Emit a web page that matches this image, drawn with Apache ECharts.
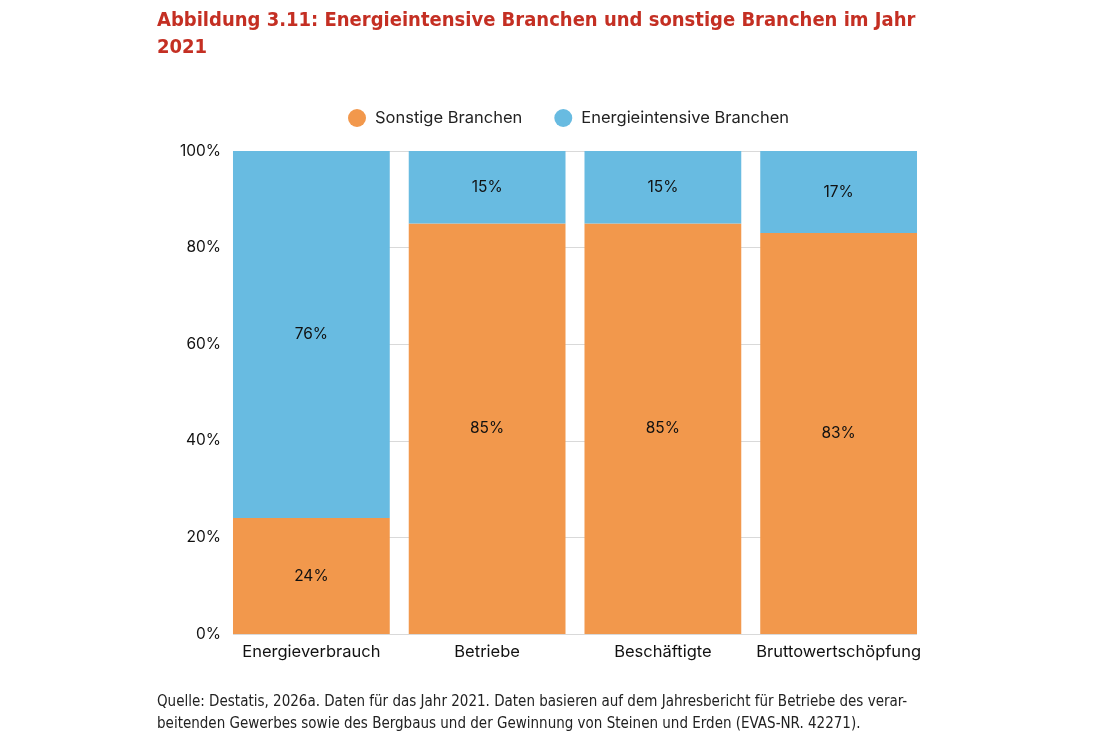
<!DOCTYPE html>
<html><head><meta charset="utf-8">
<script src="https://cdn.jsdelivr.net/npm/echarts@6/dist/echarts.min.js"></script>
<style>html,body{margin:0;padding:0;background:#fff}#c{width:1102px;height:751px}</style>
</head><body><div id="c"></div>
<script>
const categories = ['Energieverbrauch', 'Betriebe', 'Beschäftigte', 'Bruttowertschöpfung'];
const sonstige = [24, 85, 85, 83];
const energieintensiv = [76, 15, 15, 17];
const yTicks = [0, 20, 40, 60, 80, 100];

const font = 'Inter';
const narrow = '"DejaVu Sans Condensed", "Liberation Sans", sans-serif';
const chart = echarts.init(document.getElementById('c'));
const lbl = {show: true, position: 'inside', color: '#111', fontFamily: font, fontSize: 15.5, formatter: p => p.value + '%'};
chart.setOption({
  animation: false,
  title: [{
    text: 'Abbildung 3.11: Energieintensive Branchen und sonstige Branchen im Jahr\n2021',
    left: 152, top: 2,
    textStyle: {color: '#c42f23', fontFamily: narrow, fontWeight: 'bold', fontSize: 20, lineHeight: 27}
  }, {
    text: 'Quelle: Destatis, 2026a. Daten für das Jahr 2021. Daten basieren auf dem Jahresbericht für Betriebe des verar-\nbeitenden Gewerbes sowie des Bergbaus und der Gewinnung von Steinen und Erden (EVAS-NR. 42271).',
    left: 152, top: 686,
    textStyle: {color: '#222', fontFamily: narrow, fontWeight: 'normal', fontSize: 15, lineHeight: 22}
  }],
  legend: {
    top: 104, left: 343,
    icon: 'circle', itemWidth: 18, itemHeight: 18, itemGap: 32,
    textStyle: {fontFamily: font, fontSize: 16.5, color: '#222', padding: [0, 0, 0, 4]},
    data: ['Sonstige Branchen', 'Energieintensive Branchen']
  },
  grid: [
    {left: 223.5, width: 703, top: 151, height: 483},
    {left: 233, width: 684, top: 151, height: 483}
  ],
  xAxis: [
    {type: 'category', gridIndex: 0, data: categories,
     axisLine: {show: false}, axisTick: {show: false},
     axisLabel: {interval: 0, fontFamily: font, fontSize: 16.5, color: '#111', margin: 10}},
    {type: 'category', gridIndex: 1, data: categories, show: false}
  ],
  yAxis: [
    {type: 'value', gridIndex: 0, min: 0, max: 100, interval: 20, show: false},
    {type: 'value', gridIndex: 1, min: 0, max: 100, interval: 20,
     axisLine: {show: false}, axisTick: {show: false},
     axisLabel: {fontFamily: font, fontSize: 15.5, color: '#111', margin: 12, formatter: v => yTicks.includes(v) ? v + '%' : ''},
     splitLine: {lineStyle: {color: '#d9d9d9', width: 1}}}
  ],
  series: [
    {name: 'Sonstige Branchen', type: 'bar', stack: 'a', data: sonstige, xAxisIndex: 0, yAxisIndex: 0,
     barCategoryGap: '10.8%', itemStyle: {color: '#F2984C'}, label: lbl},
    {name: 'Energieintensive Branchen', type: 'bar', stack: 'a', data: energieintensiv, xAxisIndex: 0, yAxisIndex: 0,
     barCategoryGap: '10.8%', itemStyle: {color: '#68BBE1'}, label: lbl}
  ]
});
</script></body></html>
